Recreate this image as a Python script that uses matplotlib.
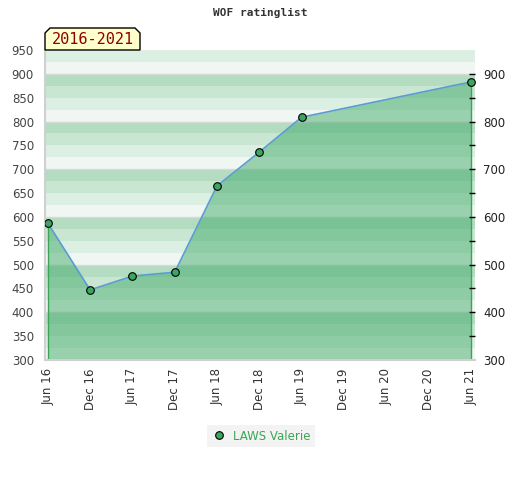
#------------------------------------------------------------------------------------------------------------------
#   WOF ratinglist chart
#------------------------------------------------------------------------------------------------------------------

import numpy as np
import matplotlib
matplotlib.use('Agg')
import matplotlib.pyplot as plt
from matplotlib.patches import Polygon

#------------------------------------------------------------------------------------------------------------------
#   Data
#------------------------------------------------------------------------------------------------------------------
title = 'WOF ratinglist'
period = '2016-2021'
player = 'LAWS Valerie'

tick_labels = ['Jun 16', 'Dec 16', 'Jun 17', 'Dec 17', 'Jun 18', 'Dec 18',
               'Jun 19', 'Dec 19', 'Jun 20', 'Dec 20', 'Jun 21']
point_dates = ['Jun 16', 'Dec 16', 'Jun 17', 'Dec 17', 'Jun 18', 'Dec 18', 'Jun 19', 'Jun 21']
ratings = [587, 447, 476, 484, 665, 736, 809, 883]

#------------------------------------------------------------------------------------------------------------------
#   Figure
#------------------------------------------------------------------------------------------------------------------
fig = plt.figure(figsize=(5.2, 4.8), dpi=100)
ax = fig.add_axes([45/520, 1 - 360/480, 430/520, 310/480])

ymin, ymax = 300, 950
tick_x = np.arange(len(tick_labels)) * 6
x = np.array([tick_labels.index(d) * 6 for d in point_dates])
y = np.array(ratings)

# striped background, four bands per hundred
band_colors = ['#f0f7f2', '#dcefe3', '#c8e6d2', '#b3dcc1']
for i, lo in enumerate(range(300, 1000, 25)):
    ax.axhspan(lo, lo + 25, color=band_colors[i % 4], lw=0, zorder=0)
for h in range(400, 1000, 100):
    ax.axhline(h, color='#d8d8d8', lw=1, zorder=0.5)

ax.fill_between(x, y, ymin, color='#3aa665', alpha=0.48, lw=0, zorder=1)
ax.vlines([x[0], x[-1]], ymin, [y[0], y[-1]], color='#3aa655', lw=1, zorder=2)
ax.plot(x, y, color='#5b9bd5', lw=1.2, zorder=3)
ax.plot(x, y, 'o', ms=5.5, mfc='#3aa660', mec='black', mew=0.8, zorder=4,
        label=player, ls='none')

ax.set_xlim(-0.4, 60.6)
ax.set_ylim(ymin, ymax)
ax.set_xticks(tick_x)
ax.set_xticklabels(tick_labels, rotation=90, fontsize=8.5, color='#333333')
ax.tick_params(axis='x', length=0, pad=6)
ax.set_yticks(np.arange(300, 951, 50))
ax.tick_params(axis='y', length=0, labelsize=8.5, labelcolor='#444444', pad=8)

for s in ['top', 'right']:
    ax.spines[s].set_visible(False)
for s in ['left', 'bottom']:
    ax.spines[s].set_color('#d0d0d0')
    ax.spines[s].set_linewidth(1.5)

ax2 = ax.twinx()
ax2.set_ylim(ymin, ymax)
ax2.set_yticks(np.arange(300, 901, 100))
ax2.set_yticks(np.arange(350, 900, 100), minor=True)
ax2.tick_params(axis='y', which='both', direction='in', length=4, width=1,
                labelsize=8.5, labelcolor='#222222', pad=6)
ax2.yaxis.get_major_ticks()[0].tick2line.set_visible(False)
for s in ax2.spines.values():
    s.set_visible(False)

fig.text(0.5, 1 - 13/480, title, ha='center', va='center', fontsize=8,
         family='DejaVu Sans Mono', fontweight='bold', color='#333333')

# period tag with cut corners
bx0, bx1, by0, by1 = 45/520, 140/520, 1 - 50/480, 1 - 28/480
c = 5/520
cy = 5/480
tag = Polygon([(bx0, by0), (bx0, by1 - cy), (bx0 + c, by1), (bx1 - c, by1),
               (bx1, by1 - cy), (bx1, by0)], closed=True, transform=fig.transFigure,
              facecolor='#ffffcc', edgecolor='black', lw=1)
fig.add_artist(tag)
fig.text((bx0 + bx1) / 2, (by0 + by1) / 2 - 1/480, period, ha='center', va='center',
         fontsize=11, family='DejaVu Sans Mono', color='#8b0000')

leg = fig.legend(loc='center', bbox_to_anchor=(261/520, 1 - 436/480), frameon=True,
                 fontsize=8.5, handletextpad=0.6, borderpad=0.4, fancybox=False,
                 handlelength=1.2)
leg.get_frame().set_facecolor('#f0f0f0')
leg.get_frame().set_edgecolor('none')
for t in leg.get_texts():
    t.set_color('#3aa655')

fig.savefig('out.png', dpi=100)
